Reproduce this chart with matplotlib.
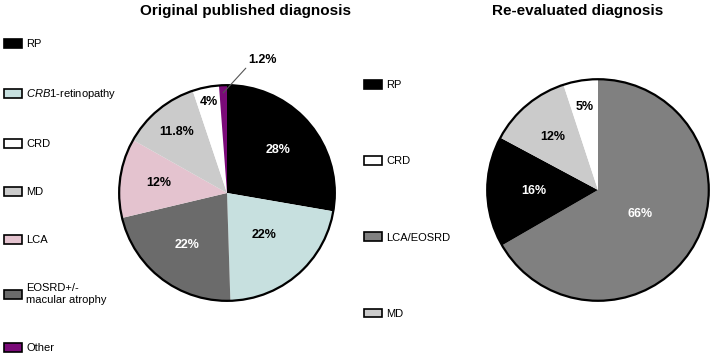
import numpy as np
import matplotlib
matplotlib.use("Agg")
import matplotlib.pyplot as plt
from matplotlib.patches import Patch, Circle

plt.rcParams['font.family'] = ['Liberation Sans', 'DejaVu Sans']
plt.rcParams['mathtext.fontset'] = 'custom'
plt.rcParams['mathtext.it'] = 'Liberation Sans:italic'
plt.rcParams['mathtext.rm'] = 'Liberation Sans'

# original published diagnosis, clockwise from 12 o'clock
orig_labels = ['RP', 'CRB1-retinopathy', 'EOSRD+/-\nmacular atrophy', 'LCA', 'MD', 'CRD', 'Other']
orig_values = [28, 22, 22, 12, 11.8, 4, 1.2]
orig_pct = ['28%', '22%', '22%', '12%', '11.8%', '4%', '1.2%']
orig_colors = ['#000000', '#c7e0df', '#6b6b6b', '#e4c3cf', '#cbcbcb', '#ffffff', '#7a0a78']
orig_textcol = ['white', 'black', 'white', 'black', 'black', 'black', 'black']
orig_dist = [0.62, 0.52, 0.61, 0.64, 0.73, 0.86, None]
orig_legend_order = ['RP', 'CRB1-retinopathy', 'CRD', 'MD', 'LCA', 'EOSRD+/-\nmacular atrophy', 'Other']

# re-evaluated diagnosis
new_labels = ['LCA/EOSRD', 'RP', 'MD', 'CRD']
new_values = [66, 16, 12, 5]
new_pct = ['66%', '16%', '12%', '5%']
new_colors = ['#808080', '#000000', '#cbcbcb', '#ffffff']
new_textcol = ['white', 'white', 'black', 'black']
new_dist = [0.44, 0.58, 0.63, 0.76]
new_legend_order = ['RP', 'CRD', 'LCA/EOSRD', 'MD']

W, H = 716, 357
fig = plt.figure(figsize=(W / 100, H / 100), dpi=100)


def pie_axes(cx, cy, r):
    return fig.add_axes([(cx - r) / W, (H - cy - r) / H, 2 * r / W, 2 * r / H])


def draw_pie(ax, values, colors, pct, textcol, dist):
    wedges, _ = ax.pie(values, colors=colors, startangle=90, counterclock=False,
                       wedgeprops=dict(linewidth=0))
    ax.add_patch(Circle((0, 0), 1, fill=False, edgecolor='black', lw=1.6))
    for w, p, c, d in zip(wedges, pct, textcol, dist):
        if d is None:
            continue
        ang = np.deg2rad((w.theta1 + w.theta2) / 2)
        ax.text(d * np.cos(ang), d * np.sin(ang), p, ha='center', va='center',
                color=c, fontsize=9, fontweight='bold')
    ax.set_xlim(-1.02, 1.02)
    ax.set_ylim(-1.02, 1.02)
    return wedges


ax1 = pie_axes(227, 193, 110)
w1 = draw_pie(ax1, orig_values, orig_colors, orig_pct, orig_textcol, orig_dist)
# small "Other" slice labelled outside
ow = w1[-1]
a = np.deg2rad((ow.theta1 + ow.theta2) / 2)
ax1.annotate(orig_pct[-1], xy=(0.93 * np.cos(a), 0.93 * np.sin(a)), xytext=(0.2, 1.23),
             ha='left', va='center', fontsize=9, fontweight='bold',
             arrowprops=dict(arrowstyle='-', color='#555555', lw=0.8,
                             shrinkA=0, shrinkB=0, relpos=(0, 0.1)),
             annotation_clip=False)

ax2 = pie_axes(598, 190, 113)
draw_pie(ax2, new_values, new_colors, new_pct, new_textcol, new_dist)

fig.text(246 / W, 1 - 11 / H, 'Original published diagnosis', ha='center', va='center',
         fontsize=11, fontweight='bold')
fig.text(578 / W, 1 - 11 / H, 'Re-evaluated diagnosis', ha='center', va='center',
         fontsize=11, fontweight='bold')


def make_handles(labels, colors, order):
    cmap = dict(zip(labels, colors))
    hs = [Patch(facecolor=cmap[l], edgecolor='black', lw=1.2) for l in order]
    texts = [l.replace('CRB1', '$\\it{CRB1}$') for l in order]
    return hs, texts


h1, t1 = make_handles(orig_labels, orig_colors, orig_legend_order)
fig.legend(h1, t1, loc='upper left', bbox_to_anchor=(4 / W, 1 - 39 / H), frameon=False,
           fontsize=8, handlelength=1.6, handleheight=0.8, handletextpad=0.4,
           labelspacing=3.42, borderpad=0, borderaxespad=0)

h2, t2 = make_handles(new_labels, new_colors, new_legend_order)
fig.legend(h2, t2, loc='upper left', bbox_to_anchor=(364 / W, 1 - 80 / H), frameon=False,
           fontsize=8, handlelength=1.6, handleheight=0.8, handletextpad=0.4,
           labelspacing=5.95, borderpad=0, borderaxespad=0)

fig.savefig('out.png', dpi=100)
